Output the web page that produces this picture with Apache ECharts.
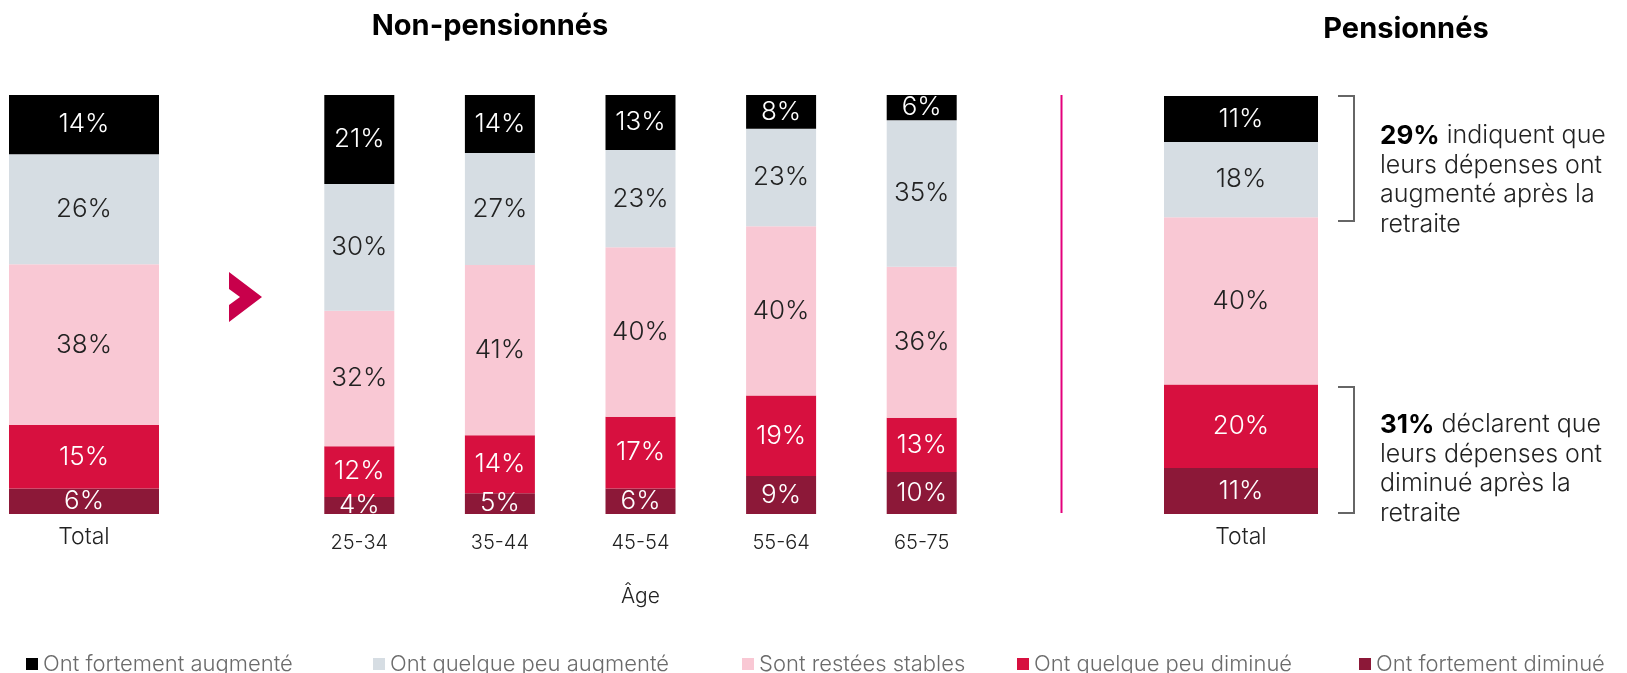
<!DOCTYPE html>
<html>
<head>
<meta charset="utf-8">
<script src="https://cdn.jsdelivr.net/npm/echarts@6/dist/echarts.min.js"></script>
<style>
  html, body { margin: 0; padding: 0; background: #fff; }
  #main { width: 1627px; height: 673px; }
</style>
</head>
<body>
<div id="main"></div>
<script>
// categories de réponse (ordre de la légende)
const answers = ['Ont fortement augmenté', 'Ont quelque peu augmenté', 'Sont restées stables', 'Ont quelque peu diminué', 'Ont fortement diminué'];
const ageGroups = ['25-34', '35-44', '45-54', '55-64', '65-75'];

// non-pensionnés, total (même ordre que answers)
const totalNonPens = [14, 26, 38, 15, 6];
// non-pensionnés par âge
const fortAug = [21, 14, 13, 8, 6];
const peuAug = [30, 27, 23, 23, 35];
const stables = [32, 41, 40, 40, 36];
const peuDim = [12, 14, 17, 19, 13];
const fortDim = [4, 5, 6, 9, 10];
const byAge = [fortAug, peuAug, stables, peuDim, fortDim];
// pensionnés, total
const totalPens = [11, 18, 40, 20, 11];

const colors = ['#000000', '#d6dde3', '#f9c8d4', '#d7103f', '#8c1838'];
const labelColors = ['#ffffff', '#222222', '#222222', '#ffffff', '#ffffff'];
const FONT = 'Inter';

var chart = echarts.init(document.getElementById('main'));

// chaque barre est ramenée à 100 %
function norm(value, column) {
  var s = column.reduce(function (a, b) { return a + b; }, 0);
  return value / s * 100;
}

var series = [];
// empilement du bas vers le haut : fortement diminué en premier
for (var k = answers.length - 1; k >= 0; k--) {
  var lab = {
    show: true,
    position: 'inside',
    color: labelColors[k],
    fontFamily: FONT,
    fontWeight: 300,
    fontSize: 26
  };
  series.push({
    name: answers[k], type: 'bar', stack: 'tot', xAxisIndex: 0, yAxisIndex: 0,
    barWidth: 150, itemStyle: { color: colors[k] },
    label: Object.assign({}, lab, { formatter: totalNonPens[k] + '%' }),
    data: [norm(totalNonPens[k], totalNonPens)]
  });
  series.push({
    name: answers[k], type: 'bar', stack: 'age', xAxisIndex: 1, yAxisIndex: 1,
    barWidth: 70, itemStyle: { color: colors[k] },
    label: Object.assign({}, lab, {
      formatter: (function (kk) { return function (p) { return byAge[kk][p.dataIndex] + '%'; }; })(k)
    }),
    data: ageGroups.map(function (g, i) {
      return norm(byAge[k][i], byAge.map(function (arr) { return arr[i]; }));
    })
  });
  series.push({
    name: answers[k], type: 'bar', stack: 'pens', xAxisIndex: 2, yAxisIndex: 2,
    barWidth: 154, itemStyle: { color: colors[k] },
    label: Object.assign({}, lab, { formatter: totalPens[k] + '%' }),
    data: [norm(totalPens[k], totalPens)]
  });
}

function xAx(idx, data, size, margin, extra) {
  return Object.assign({
    type: 'category', gridIndex: idx, data: data,
    axisLine: { show: false }, axisTick: { show: false },
    axisLabel: { color: '#222', fontFamily: FONT, fontWeight: 300, fontSize: size, margin: margin }
  }, extra || {});
}
function yAx(idx) {
  return { type: 'value', gridIndex: idx, min: 0, max: 100, show: false, splitLine: { show: false } };
}

// une légende par entrée pour garder les positions d'origine
var legendLeft = [21, 368, 737, 1012, 1354];
var legends = answers.map(function (a, i) {
  return {
    data: [a], left: legendLeft[i], top: 648,
    icon: 'rect', itemWidth: 12, itemHeight: 12, itemGap: 6,
    selectedMode: false,
    textStyle: { color: '#6b6b6b', fontFamily: FONT, fontWeight: 300, fontSize: 22 }
  };
});

function bracket(y1, y2) {
  return {
    type: 'polyline',
    shape: { points: [[1338, y1], [1354, y1], [1354, y2], [1338, y2]] },
    style: { stroke: '#666', lineWidth: 2, fill: null }
  };
}
function note(y, bold, rest) {
  return {
    type: 'text', x: 1380, y: y,
    style: {
      text: '{b|' + bold + '} ' + rest,
      fill: '#222', fontFamily: FONT, fontWeight: 300, fontSize: 25, lineHeight: 29.5,
      verticalAlign: 'top',
      rich: { b: { fontFamily: FONT, fontWeight: 700, fontSize: 26, fill: '#000', lineHeight: 29.5 } }
    }
  };
}

var option = {
  animation: false,
  title: [
    { text: 'Non-pensionnés', left: 485, top: 7, textAlign: 'center',
      textStyle: { fontFamily: FONT, fontWeight: 700, fontSize: 29, color: '#000' } },
    { text: 'Pensionnés', left: 1401, top: 10, textAlign: 'center',
      textStyle: { fontFamily: FONT, fontWeight: 700, fontSize: 29, color: '#000' } }
  ],
  legend: legends,
  grid: [
    { left: 9, top: 95, width: 150, height: 419 },
    { left: 289, top: 95, width: 703, height: 419 },
    { left: 1164, top: 96, width: 154, height: 418 }
  ],
  xAxis: [
    xAx(0, ['Total'], 23, 12),
    xAx(1, ageGroups, 20, 19, {
      name: 'Âge', nameLocation: 'middle', nameGap: 72,
      nameTextStyle: { color: '#222', fontFamily: FONT, fontWeight: 300, fontSize: 21 }
    }),
    xAx(2, ['Total'], 23, 12)
  ],
  yAxis: [yAx(0), yAx(1), yAx(2)],
  series: series,
  graphic: [
    // flèche
    {
      type: 'polygon',
      shape: { points: [[229, 272], [262, 297], [229, 322], [229, 305], [240, 297], [229, 289]] },
      style: { fill: '#c8004b' }
    },
    // séparateur
    { type: 'line', shape: { x1: 1061.5, y1: 95, x2: 1061.5, y2: 513 }, style: { stroke: '#e4007c', lineWidth: 2 } },
    bracket(96, 221),
    bracket(387, 513),
    note(121, '29%', 'indiquent que\nleurs dépenses ont\naugmenté après la\nretraite'),
    note(410, '31%', 'déclarent que\nleurs dépenses ont\ndiminué après la\nretraite')
  ]
};

chart.setOption(option);
</script>
</body>
</html>
